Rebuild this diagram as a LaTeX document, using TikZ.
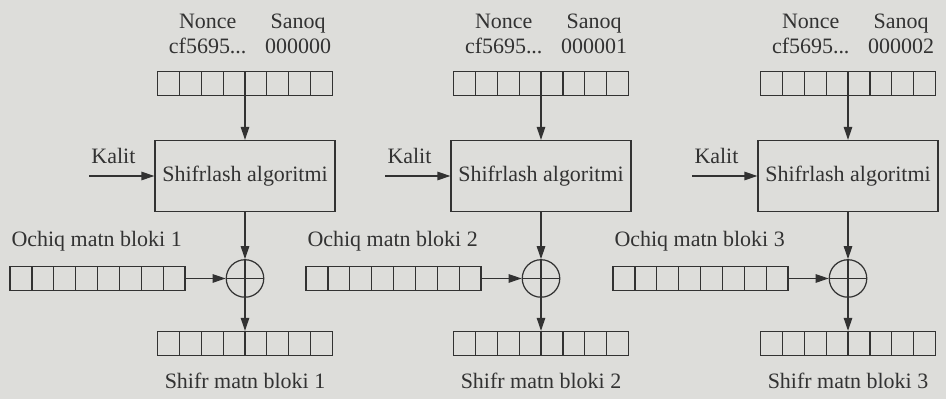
\documentclass[tikz,border=0pt]{standalone}
\usepackage{fontspec}
\setmainfont{Liberation Serif}
\usepackage{xcolor}
\usetikzlibrary{arrows.meta,positioning,calc}
\definecolor{paper}{RGB}{221,221,218}
\definecolor{ink}{RGB}{50,50,50}

\begin{document}
\begin{tikzpicture}[
    color=ink,
    font=\fontsize{12.5}{14}\selectfont,
    node distance=8mm and 8mm,
    lbl/.style={inner sep=1pt, align=center},
    regrow/.style={
      draw=ink, line width=0.7pt, inner sep=0pt,
      minimum width=3.5cm, minimum height=4.8mm,
      path picture={\foreach \k in {1,...,7}
        \draw[line width=0.7pt]
          ($(path picture bounding box.north west)!\k/8!(path picture bounding box.north east)$) --
          ($(path picture bounding box.south west)!\k/8!(path picture bounding box.south east)$);}
    },
    algbox/.style={
      draw=ink, line width=0.7pt, inner sep=2pt,
      minimum width=3.6cm, minimum height=14.2mm
    },
    xor/.style={
      circle, draw=ink, line width=0.7pt, inner sep=0pt, minimum size=7.5mm,
      path picture={\draw[line width=0.7pt]
        (path picture bounding box.north) -- (path picture bounding box.south)
        (path picture bounding box.west) -- (path picture bounding box.east);}
    },
    arrow/.style={-{Triangle[length=2.6mm,width=1.7mm]},line width=0.7pt,draw=ink}
  ]
    \fill[paper] (0,0) rectangle (18.92,-7.98);
    \useasboundingbox (0,0) rectangle (18.92,-7.98);

    \foreach \i/\x/\n in {1/4.9/0, 2/10.82/1, 3/16.96/2}{
      \node[algbox] (alg\i) at (\x,-3.52) {Shifrlash algoritmi};
      \node[regrow,above=8.8mm of alg\i] (ctr\i) {};
      \node[lbl,above right=3mm and 2mm of ctr\i.north west] (nonce\i) {Nonce\\cf5695...};
      \node[lbl,above left=3mm and 0mm of ctr\i.north east] (sanoq\i) {Sanoq\\00000\n};
      \coordinate[left=13mm of alg\i.west] (k\i);
      \node[lbl,above right=2mm and 0mm of k\i] (kalit\i) {Kalit};
      \node[xor,below=9.4mm of alg\i] (xor\i) {};
      \node[regrow,left=8mm of xor\i] (pt\i) {};
      \node[lbl,above right=2.5mm and 0mm of pt\i.north west] (ptlbl\i) {Ochiq matn bloki \i};
      \node[regrow,below=6.6mm of xor\i] (out\i) {};
      \node[lbl,below=3mm of out\i] (outlbl\i) {Shifr matn bloki \i};

      \draw[arrow] (ctr\i) -- (alg\i);
      \draw[arrow] (k\i) -- (alg\i);
      \draw[arrow] (alg\i) -- (xor\i);
      \draw[arrow] (pt\i) -- (xor\i);
      \draw[arrow] (xor\i) -- (out\i);
    }
  \end{tikzpicture}
\end{document}
